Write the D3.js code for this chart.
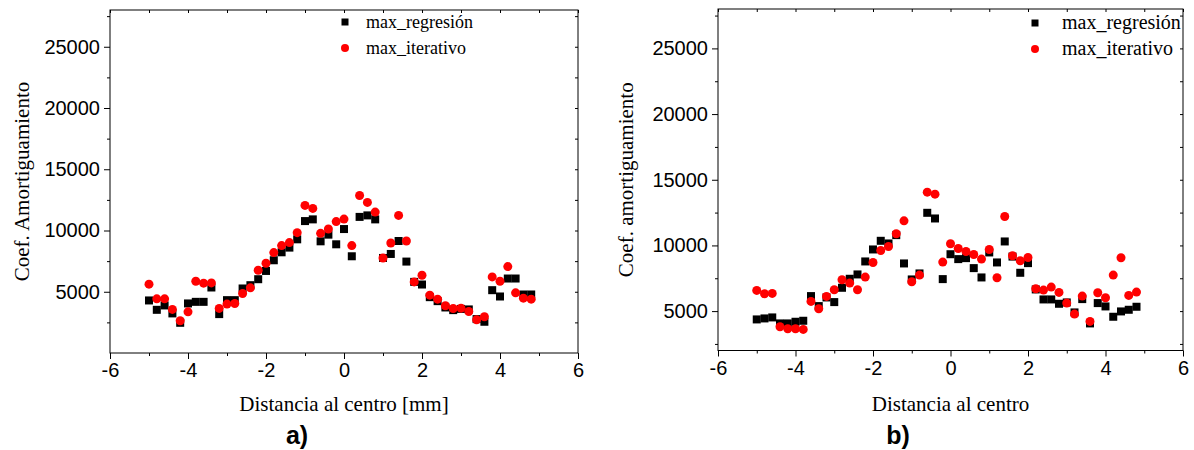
<!DOCTYPE html>
<html><head><meta charset="utf-8">
<script src="https://cdn.jsdelivr.net/npm/d3@7"></script>
<style>body{margin:0;background:#fff} svg{display:block}</style>
</head><body>
<svg id="c" width="1194" height="450"></svg>
<script>
// ---------- data ----------
const distances = [-5.0,-4.8,-4.6,-4.4,-4.2,-4.0,-3.8,-3.6,-3.4,-3.2,-3.0,-2.8,-2.6,-2.4,-2.2,-2.0,-1.8,-1.6,-1.4,-1.2,-1.0,-0.8,-0.6,-0.4,-0.2,0.0,0.2,0.4,0.6,0.8,1.0,1.2,1.4,1.6,1.8,2.0,2.2,2.4,2.6,2.8,3.0,3.2,3.4,3.6,3.8,4.0,4.2,4.4,4.6,4.8];
const maxRegresionA = [4290,3525,3883,3232,2466,4045,4176,4176,5348,3175,4314,4314,5267,5535,6024,6699,7570,8221,8604,9280,10769,10908,9117,9662,8873,10118,7896,11110,11233,10908,7758,8085,9143,7463,5806,5590,4558,4233,3718,3500,3600,3557,2768,2550,5128,4613,6080,6080,4776,4776];
const maxIterativoA = [5617,4420,4420,3557,2630,3362,5860,5700,5720,3640,3990,4045,4860,5320,6756,7326,8197,8767,9011,9825,12047,11803,9768,10118,10730,10932,8767,12861,12291,11502,7758,8980,11233,9143,5806,6349,4721,4396,3853,3636,3663,3392,2713,2957,6213,5861,7054,4911,4477,4396];
const maxRegresionB = [4366,4442,4518,4062,4062,4188,4264,6142,5381,6040,5685,6775,7461,7791,8780,9693,10352,10149,10784,8628,7410,7867,12483,12052,7435,9330,8957,9033,8272,7562,9465,8704,10302,9150,7917,8653,6649,5888,5888,5558,5659,4899,5913,4062,5609,5355,4569,4975,5101,5330];
const maxIterativoB = [6573,6319,6345,3808,3655,3655,3605,5736,5178,6116,6623,7385,7131,6623,7587,8704,9617,9921,10885,11874,7232,7740,14056,13904,8729,10130,9770,9541,9313,8957,9693,7537,12204,9211,8830,9084,6700,6598,6826,6421,5609,4772,6142,4214,6395,6015,7740,9058,6192,6446];
const xTickValues = [-6,-4,-2,0,2,4,6];
const xMinorValues = [-5,-3,-1,1,3,5];
const xTopValues = [-6,-5,-4,-3,-2,-1,0,1,2,3,4,5,6];
const yTickValues = [5000,10000,15000,20000,25000];
const yMinorValues = [2500,7500,12500,17500,22500,27500];
const legendLabels = ["max_regresión","max_iterativo"];
const panelLabels = ["a)","b)"];
const yTitles = ["Coef. Amortiguamiento","Coef. amortiguamiento"];
const xTitles = ["Distancia al centro [mm]","Distancia al centro"];

// ---------- layout ----------
const panels = [
  {x0:110, x1:578, yTop:10, yBot:353, yDomain:[0,28000], reg:maxRegresionA, it:maxIterativoA,
   yTitleX:22, legX:345, legY:22, legTextX:366, legFont:18, labelX:297},
  {x0:718, x1:1183, yTop:9, yBot:350.5, yDomain:[2000,28000], reg:maxRegresionB, it:maxIterativoB,
   yTitleX:626, legX:1035, legY:23, legTextX:1062, legFont:20, labelX:898}
];
const sansFont = "'Liberation Sans', Arial, sans-serif";
const serifFont = "'Liberation Serif', 'Times New Roman', serif";
const svg = d3.select("#c");

panels.forEach((p, i) => {
  const x = d3.scaleLinear().domain([-6,6]).range([p.x0, p.x1]);
  const y = d3.scaleLinear().domain(p.yDomain).range([p.yBot, p.yTop]);
  const g = svg.append("g");

  const styleAxis = sel => {
    sel.select(".domain").remove();
    sel.selectAll("line").attr("stroke","#000").attr("stroke-width",1);
    sel.selectAll("text").attr("fill","#000").style("font-family",sansFont).style("font-size","20px");
  };

  g.append("g").attr("transform",`translate(0,${p.yBot})`)
    .call(d3.axisBottom(x).tickValues(xTickValues).tickSize(6).tickPadding(4).tickFormat(d=>String(d)))
    .call(styleAxis);
  g.append("g").attr("transform",`translate(0,${p.yBot})`)
    .call(d3.axisBottom(x).tickValues(xMinorValues).tickSize(3).tickFormat(""))
    .call(styleAxis);
  g.append("g").attr("transform",`translate(${p.x0},0)`)
    .call(d3.axisLeft(y).tickValues(yTickValues).tickSize(6).tickPadding(4).tickFormat(d=>String(d)))
    .call(styleAxis);
  g.append("g").attr("transform",`translate(${p.x0},0)`)
    .call(d3.axisLeft(y).tickValues(yMinorValues.filter(v=>v>=p.yDomain[0]&&v<=p.yDomain[1])).tickSize(3).tickFormat(""))
    .call(styleAxis);
  g.append("g").attr("transform",`translate(0,${p.yTop})`)
    .call(d3.axisTop(x).tickValues(xTopValues).tickSize(-3).tickFormat(""))
    .call(styleAxis);
  g.append("g").attr("transform",`translate(${p.x1},0)`)
    .call(d3.axisRight(y).tickValues(yTickValues.concat(yMinorValues).filter(v=>v>=p.yDomain[0]&&v<=p.yDomain[1])).tickSize(-3).tickFormat(""))
    .call(styleAxis);

  g.append("rect").attr("x",p.x0).attr("y",p.yTop).attr("width",p.x1-p.x0).attr("height",p.yBot-p.yTop)
    .attr("fill","none").attr("stroke","#000").attr("stroke-width",1);

  const s = 8;
  g.append("g").selectAll("rect").data(distances).join("rect")
    .attr("x",(d,k)=>x(d)-s/2).attr("y",(d,k)=>y(p.reg[k])-s/2)
    .attr("width",s).attr("height",s).attr("fill","#000");
  g.append("g").selectAll("circle").data(distances).join("circle")
    .attr("cx",(d,k)=>x(d)).attr("cy",(d,k)=>y(p.it[k])).attr("r",4.5).attr("fill","#ff0000");

  // legend
  g.append("rect").attr("x",p.legX-3.5).attr("y",p.legY-3.5).attr("width",7).attr("height",7).attr("fill","#000");
  g.append("circle").attr("cx",p.legX).attr("cy",p.legY+26).attr("r",4).attr("fill","#ff0000");
  legendLabels.forEach((t,k)=>{
    g.append("text").attr("x",p.legTextX).attr("y",p.legY+26*k+6).text(t)
      .style("font-family",serifFont).style("font-size",p.legFont+"px").attr("fill","#000");
  });

  // titles
  g.append("text").attr("transform",`translate(${p.yTitleX},${(p.yTop+p.yBot)/2}) rotate(-90)`)
    .attr("text-anchor","middle").attr("dominant-baseline","central").text(yTitles[i])
    .style("font-family",serifFont).style("font-size","21px").attr("fill","#000");
  g.append("text").attr("x",(p.x0+p.x1)/2).attr("y",411).attr("text-anchor","middle").text(xTitles[i])
    .style("font-family",serifFont).style("font-size","21px").attr("fill","#000");
  g.append("text").attr("x",p.labelX).attr("y",444).attr("text-anchor","middle").text(panelLabels[i])
    .style("font-family",sansFont).style("font-size","25px").style("font-weight","bold").attr("fill","#000");
});
</script>
</body></html>
